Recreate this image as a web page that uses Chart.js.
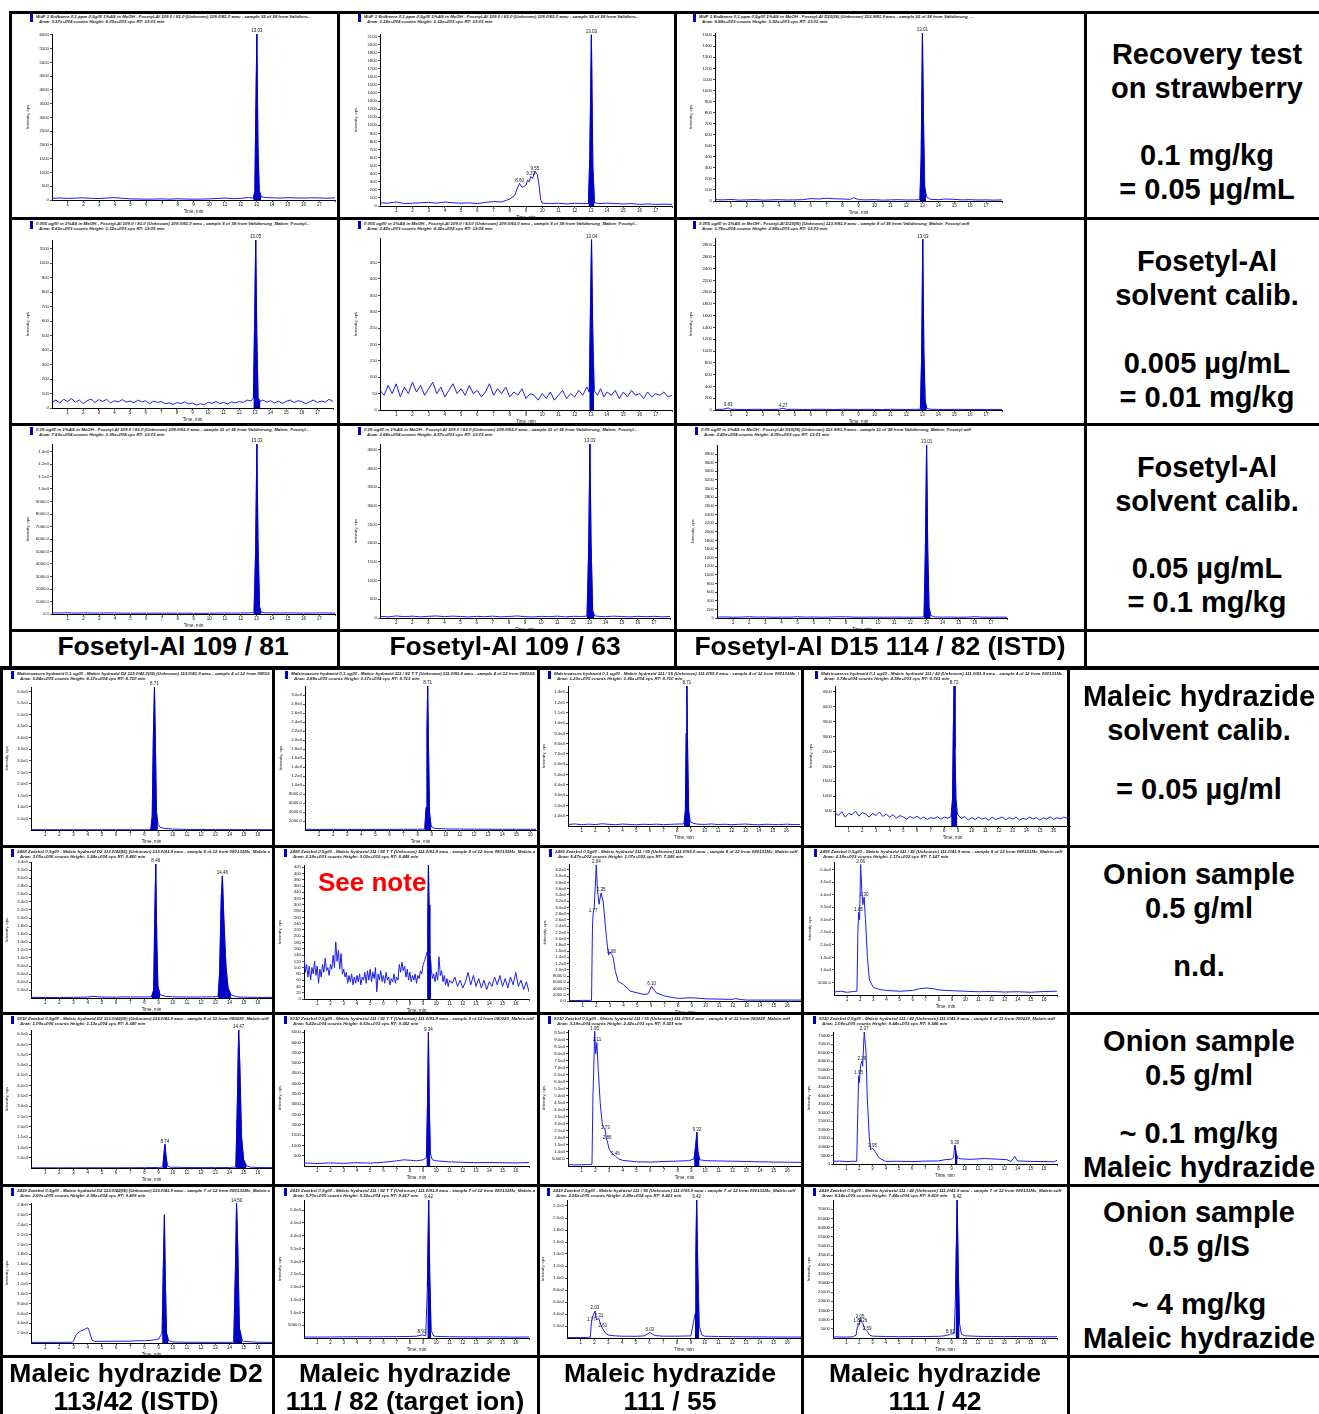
<!DOCTYPE html>
<html><head><meta charset="utf-8">
<script src="https://cdn.jsdelivr.net/npm/chart.js@4.4.1/dist/chart.umd.min.js"></script>
<style>
body{margin:0;background:#fff;width:1319px;height:1414px;overflow:hidden;position:relative;font-family:"Liberation Sans",Arial,sans-serif}
.ln{position:absolute;background:#000}
.hd{position:absolute;font:italic bold 4.4px "Liberation Sans";color:#222;white-space:nowrap;line-height:5px;overflow:hidden}
.mk{position:absolute;background:#0000c0;width:3px;height:8px}
.tx{position:absolute;font:bold 26.5px "Liberation Sans";color:#000;text-align:center;line-height:34px;white-space:nowrap}
.tr{font-size:29px}
.note{position:absolute;font:bold 26px "Liberation Sans";color:#ff0000;white-space:nowrap}
</style></head><body>
<script>
// ---------------- DATA (time [min], intensity [cps]) ----------------
const fos81_recov=[[0,60],[0.5,75],[1,55],[1.5,70],[2,80],[2.5,60],[3,55],[3.5,70],[4,85],[4.5,60],[5,40],[5.5,35],[6,30],[6.5,35],[7,40],[7.5,30],[8,45],[8.5,35],[9,30],[9.5,35],[10,40],[10.5,55],[11,70],[11.5,50],[12,60],[12.5,90],[12.8,70],[12.9,300],[12.97,3500],[13.03,6030],[13.1,2000],[13.18,350],[13.3,120],[13.5,95],[14,80],[14.5,70],[15,85],[15.5,75],[16,70],[16.5,80],[17,75],[17.5,65],[18,80]];
const fos63_recov=[[0,40],[0.5,35],[1,50],[1.5,30],[2,35],[2.5,40],[3,45],[3.5,35],[4,50],[4.5,40],[5,35],[5.5,40],[6,30],[6.5,45],[7,55],[7.5,50],[8,86],[8.3,130],[8.5,237],[8.6,280],[8.75,230],[8.9,245],[9.0,260],[9.1,320],[9.2,300],[9.29,365],[9.4,340],[9.5,400],[9.55,430],[9.7,390],[9.8,260],[9.9,86],[10,35],[10.5,30],[11,35],[11.5,25],[12,35],[12.5,30],[12.85,30],[12.93,600],[13.03,2120],[13.12,500],[13.22,40],[13.5,30],[14,35],[14.5,30],[15,25],[15.5,30],[16,20],[16.5,25],[17,20],[17.5,22],[18,20]];
const d15_recov=[[0,12],[0.5,10],[1,14],[1.5,8],[2,10],[2.5,12],[3,8],[3.5,10],[4,12],[4.5,9],[5,10],[5.5,12],[6,22],[6.5,18],[7,25],[7.5,20],[8,18],[8.5,15],[8.7,30],[9,12],[9.5,10],[10,12],[10.5,8],[11,10],[11.5,12],[12,9],[12.5,10],[12.85,12],[12.93,400],[13.01,1520],[13.08,700],[13.15,130],[13.25,40],[13.5,15],[14,12],[14.5,18],[15,15],[15.5,10],[16,12],[16.5,9],[17,10],[17.5,8],[18,10]];
const fos81_c005=[[0,40],[0.25,55],[0.5,35],[0.75,60],[1,45],[1.25,65],[1.5,40],[1.75,55],[2,30],[2.25,50],[2.5,62],[2.75,38],[3,58],[3.25,45],[3.5,60],[3.75,35],[4,50],[4.25,42],[4.5,58],[4.75,40],[5,48],[5.25,35],[5.5,55],[5.75,42],[6,50],[6.25,30],[6.5,48],[6.75,38],[7,45],[7.25,30],[7.5,35],[7.75,25],[8,38],[8.25,30],[8.5,42],[8.75,28],[9,35],[9.25,20],[9.5,30],[9.75,22],[10,40],[10.25,32],[10.5,45],[10.75,30],[11,38],[11.25,28],[11.5,42],[11.75,35],[12,45],[12.25,38],[12.5,55],[12.75,48],[12.9,70],[12.98,600],[13.05,1160],[13.12,500],[13.2,70],[13.35,45],[13.5,55],[13.75,40],[14,50],[14.25,35],[14.5,48],[14.75,32],[15,45],[15.25,55],[15.5,38],[15.75,50],[16,45],[16.25,30],[16.5,42],[16.75,55],[17,38],[17.25,48],[17.5,40],[17.75,60],[18,45]];
const fos63_c005=[[0,60],[0.25,45],[0.5,75],[0.75,50],[1,80],[1.25,40],[1.5,70],[1.75,50],[2,85],[2.25,55],[2.5,75],[2.75,45],[3,65],[3.25,85],[3.5,50],[3.75,70],[4,40],[4.25,60],[4.5,80],[4.75,50],[5,65],[5.25,45],[5.5,75],[5.75,50],[6,60],[6.25,40],[6.5,55],[6.75,80],[7,45],[7.25,65],[7.5,50],[7.75,70],[8,40],[8.25,55],[8.5,45],[8.75,65],[9,35],[9.25,50],[9.5,45],[9.75,30],[10,50],[10.25,35],[10.5,55],[10.75,30],[11,45],[11.25,60],[11.5,35],[11.75,50],[12,40],[12.25,60],[12.5,45],[12.75,70],[12.9,55],[12.97,300],[13.04,520],[13.11,250],[13.2,60],[13.4,45],[13.6,65],[13.8,40],[14,55],[14.25,45],[14.5,60],[14.75,35],[15,55],[15.25,40],[15.5,60],[15.75,45],[16,50],[16.25,35],[16.5,55],[16.75,40],[17,50],[17.25,45],[17.5,55],[17.75,40],[18,45]];
const d15_c005=[[0,10],[0.5,12],[0.83,35],[1,12],[1.5,10],[2,8],[2.5,12],[3,10],[3.5,9],[4,12],[4.27,30],[4.5,10],[5,12],[5.5,9],[6,10],[6.5,12],[7,10],[7.5,8],[8,12],[8.5,10],[9,9],[9.5,11],[10,10],[10.5,8],[11,12],[11.5,10],[12,9],[12.5,11],[12.88,12],[12.96,900],[13.03,2900],[13.1,1000],[13.18,150],[13.28,30],[13.5,12],[14,10],[14.5,9],[15,11],[15.5,10],[16,8],[16.5,10],[17,9],[17.5,10],[18,9]];
const fos81_c05=[[0,90],[0.5,80],[1,100],[1.5,70],[2,90],[2.5,80],[3,70],[3.5,90],[4,80],[4.5,70],[5,60],[5.5,70],[6,60],[6.5,70],[7,60],[7.5,70],[8,60],[8.5,70],[9,60],[9.5,50],[10,60],[10.5,70],[11,80],[11.5,70],[12,80],[12.5,90],[12.85,100],[12.95,5000],[13.03,13600],[13.1,6000],[13.2,600],[13.3,150],[13.5,100],[14,90],[14.5,80],[15,90],[15.5,80],[16,70],[16.5,80],[17,90],[17.5,80],[18,70]];
const fos63_c05=[[0,45],[0.5,30],[1,55],[1.5,35],[2,50],[2.5,30],[3,45],[3.5,55],[4,35],[4.5,50],[5,40],[5.5,30],[6,45],[6.5,35],[7,50],[7.5,30],[8,40],[8.5,55],[9,35],[9.5,30],[10,45],[10.5,35],[11,50],[11.5,30],[12,45],[12.5,40],[12.85,50],[12.95,1800],[13.03,4650],[13.1,2000],[13.2,200],[13.3,60],[13.5,45],[14,35],[14.5,50],[15,40],[15.5,30],[16,45],[16.5,35],[17,45],[17.5,30],[18,40]];
const d15_c05=[[0,20],[0.5,25],[1,18],[1.5,22],[2,30],[2.5,20],[3,25],[3.5,18],[4,22],[4.5,20],[5,30],[5.5,20],[6,25],[6.5,18],[7,22],[7.5,30],[8,28],[8.5,20],[9,18],[9.5,22],[10,20],[10.5,18],[11,22],[11.5,20],[12,18],[12.5,20],[12.85,25],[12.93,1500],[13.01,4010],[13.08,1600],[13.16,250],[13.26,60],[13.5,25],[14,20],[14.5,22],[15,18],[15.5,20],[16,30],[16.5,20],[17,18],[17.5,20],[18,18]];

const mhD2_cal=[[0,1500],[1,1200],[2,1300],[3,1100],[4,1200],[5,1000],[6,1100],[7,1000],[8,1200],[8.45,1500],[8.55,60000],[8.63,400000],[8.71,620000],[8.78,350000],[8.85,80000],[8.95,25000],[9.1,12000],[9.4,7000],[10,4000],[11,2500],[12,2000],[13,1800],[14,1600],[15,1500],[16,1400],[17,1400]];
const mh82_cal=[[0,150],[1,120],[2,140],[3,130],[4,120],[5,140],[6,130],[7,150],[8,160],[8.5,200],[8.6,5000],[8.66,22000],[8.71,32000],[8.77,18000],[8.84,4000],[8.95,800],[9.2,350],[10,250],[11,200],[12,180],[13,170],[14,160],[15,150],[16,150],[16.4,150]];
const mh55_cal=[[0,1500],[0.5,2000],[1,1200],[1.5,1800],[2,1400],[2.5,2200],[3,1600],[3.5,1300],[4,1900],[4.5,1500],[5,1200],[5.5,1700],[6,1400],[6.5,1800],[7,1300],[7.5,1600],[8,1900],[8.5,2000],[8.6,15000],[8.66,90000],[8.71,136000],[8.77,70000],[8.84,15000],[8.95,4000],[9.2,2500],[9.5,1800],[10,1500],[10.5,2000],[11,1400],[11.5,1700],[12,1300],[12.5,1600],[13,1900],[13.5,1400],[14,1200],[14.5,1700],[15,1500],[15.5,1300],[16,1800],[16.5,1400],[17,1500]];
const mh42_cal=[[0,450],[0.25,350],[0.5,480],[0.75,300],[1,420],[1.25,380],[1.5,500],[1.75,330],[2,450],[2.25,400],[2.5,300],[2.75,420],[3,350],[3.25,470],[3.5,320],[3.75,400],[4,300],[4.25,380],[4.5,260],[4.75,350],[5,300],[5.25,230],[5.5,320],[5.75,260],[6,330],[6.25,240],[6.5,300],[6.75,220],[7,280],[7.25,250],[7.5,310],[7.75,230],[8,300],[8.25,260],[8.5,320],[8.6,900],[8.66,3200],[8.72,4700],[8.78,2600],[8.85,900],[8.95,400],[9.25,250],[9.5,320],[9.75,200],[10,280],[10.25,220],[10.5,300],[10.75,230],[11,270],[11.25,200],[11.5,290],[11.75,220],[12,260],[12.25,300],[12.5,210],[12.75,280],[13,230],[13.25,300],[13.5,200],[13.75,260],[14,220],[14.25,300],[14.5,230],[14.75,280],[15,200],[15.25,270],[15.5,230],[15.75,310],[16,220],[16.25,280],[16.5,240],[16.75,300],[17,250],[17.2,330]];

const mhD2_on1=[[0,1500],[1,1200],[2,1300],[3,1500],[4,2500],[4.3,4000],[5,2500],[6,2000],[6.5,3000],[7,2500],[7.5,2800],[8,2500],[8.5,3000],[8.65,20000],[8.73,200000],[8.8,335000],[8.87,150000],[8.95,30000],[9.1,8000],[9.5,4000],[10,3000],[11,2500],[12,2500],[12.8,3000],[13.2,3500],[13.3,60000],[13.42,250000],[13.5,305000],[13.6,200000],[13.75,80000],[13.9,25000],[14.1,8000],[14.5,3000],[15,2000],[16,1500],[17,1500]];
const mh82_on1=[[0,140],[0.1,85],[0.2,110],[0.3,70],[0.4,105],[0.5,60],[0.6,100],[0.7,80],[0.8,120],[0.9,75],[1.0,105],[1.1,50],[1.2,95],[1.3,70],[1.4,110],[1.5,85],[1.6,130],[1.7,90],[1.8,100],[1.9,75],[2.0,110],[2.1,95],[2.2,140],[2.3,100],[2.4,182],[2.5,120],[2.6,155],[2.7,95],[2.8,145],[2.9,80],[3.0,95],[3.1,70],[3.2,85],[3.3,50],[3.4,75],[3.5,55],[3.6,80],[3.7,45],[3.8,70],[3.9,50],[4.0,75],[4.1,55],[4.2,80],[4.3,45],[4.4,70],[4.5,60],[4.6,85],[4.7,50],[4.8,90],[4.9,60],[5.0,95],[5.1,55],[5.2,85],[5.3,65],[5.4,100],[5.5,23],[5.6,80],[5.7,60],[5.8,90],[5.9,55],[6.0,75],[6.1,50],[6.2,85],[6.3,60],[6.4,70],[6.5,45],[6.6,65],[6.7,55],[6.8,80],[6.9,50],[7.0,70],[7.1,60],[7.2,110],[7.3,85],[7.4,118],[7.5,90],[7.6,105],[7.7,70],[7.8,95],[7.9,60],[8.0,85],[8.1,55],[8.2,75],[8.3,60],[8.4,80],[8.5,50],[8.6,75],[8.7,65],[8.8,90],[8.9,80],[9.0,110],[9.1,120],[9.2,135],[9.3,150],[9.35,250],[9.4,427],[9.45,300],[9.5,145],[9.55,130],[9.6,100],[9.7,65],[9.8,80],[9.9,55],[10.0,85],[10.1,60],[10.2,135],[10.3,75],[10.4,90],[10.5,55],[10.6,75],[10.7,45],[10.8,65],[10.9,40],[11.0,60],[11.2,50],[11.4,70],[11.6,40],[11.8,60],[12.0,35],[12.2,55],[12.4,85],[12.6,45],[12.8,75],[13.0,40],[13.2,65],[13.4,35],[13.6,60],[13.8,30],[14.0,55],[14.2,40],[14.4,70],[14.6,45],[14.8,75],[15.0,40],[15.2,65],[15.4,35],[15.6,70],[15.8,45],[16.0,85],[16.2,40],[16.4,60],[16.6,30],[16.8,55],[17.0,23]];
const mh55_on1=[[0,200],[0.5,150],[1,200],[1.5,180],[1.65,250],[1.72,24000],[1.77,28100],[1.85,30000],[2.0,43600],[2.08,36000],[2.2,31000],[2.35,34650],[2.5,32000],[2.75,20000],[2.9,14700],[3.0,15750],[3.1,15000],[3.2,14700],[3.4,9450],[3.6,6300],[4.0,5250],[4.5,3150],[5.0,2600],[5.5,2100],[5.8,2300],[6.05,4700],[6.4,2600],[7,1600],[8,840],[9,1050],[10,700],[11,600],[12,525],[12.2,800],[12.5,500],[13,300],[14,300],[15,300],[16,300],[17,300]];
const mh42_on1=[[0,1200],[0.5,1500],[1,1100],[1.5,1400],[1.75,1500],[1.82,25000],[1.88,33000],[1.95,30000],[2.03,52000],[2.12,42000],[2.2,36000],[2.3,39000],[2.4,30000],[2.55,15000],[2.7,6000],[3.0,3000],[3.5,2200],[4,1800],[5,1500],[6,1800],[6.5,2500],[7,2800],[7.5,2600],[8,2000],[9,1700],[10,1500],[11,1300],[12,1400],[13,1200],[14,1300],[15,1100],[16,1400],[17,1500]];

const mhD2_on2=[[0,1000],[1,1200],[2,1000],[3,1100],[4,1500],[5,1200],[6,1300],[7,1500],[8,1800],[9,2500],[9.3,5000],[9.38,70000],[9.45,115000],[9.52,60000],[9.62,10000],[9.8,4000],[10.5,3000],[11,2500],[12,2000],[13,2000],[14,2500],[14.45,5000],[14.55,300000],[14.65,670000],[14.73,500000],[14.85,150000],[15.0,40000],[15.2,10000],[15.5,4000],[16,2500],[17,2000]];
const mh82_on2=[[0,150],[1,120],[2,150],[3,130],[4,160],[5,140],[6,180],[7,250],[7.5,300],[8,280],[8.5,250],[9,300],[9.25,400],[9.33,3000],[9.4,6500],[9.47,2800],[9.55,600],[9.7,300],[10,250],[11,200],[12,180],[13,160],[14,170],[15,160],[16,150],[17,170]];
const mh55_on2=[[0,1000],[0.5,800],[1,900],[1.5,1000],[1.75,1200],[1.82,50000],[1.88,70000],[1.95,96000],[2.02,80000],[2.11,88000],[2.2,70000],[2.35,45000],[2.5,30000],[2.73,25000],[2.8,19000],[2.86,18000],[3.0,12000],[3.2,9000],[3.46,7000],[3.7,5000],[4,4000],[5,3000],[6,2800],[7,3200],[8,3500],[8.8,3800],[9.2,5000],[9.32,15000],[9.4,24000],[9.48,10000],[9.6,4500],[10,3800],[11,3600],[12,3400],[13,3200],[14,3000],[15,2800],[16,2700],[17,2600]];
const mh42_on2=[[0,1500],[0.5,1700],[1,1400],[1.5,1600],[1.8,1500],[1.88,30000],[1.95,51500],[2.0,47600],[2.1,58000],[2.2,60000],[2.25,57000],[2.37,77000],[2.5,66000],[2.6,39000],[2.75,16000],[2.85,8300],[3.0,9200],[3.2,7300],[3.5,3500],[4,1500],[5,1600],[6,1400],[7,1700],[8,1800],[8.5,2500],[9.0,2800],[9.15,4000],[9.25,11000],[9.35,6000],[9.45,3500],[9.7,3000],[10.5,2700],[11.5,3200],[12.5,2800],[13.2,2500],[13.5,1500],[13.8,4400],[14,1800],[15,1500],[16,1400],[16.8,1300],[17,2200]];

const mhD2_on3=[[0,1300],[1,1200],[2,1300],[2.9,1500],[3.0,4000],[3.2,18000],[3.5,24500],[3.8,27800],[4.0,31000],[4.1,25000],[4.3,6000],[4.5,3300],[5,3300],[6,3500],[7,3800],[7.5,4600],[8,4500],[8.5,5500],[9.0,8000],[9.25,20000],[9.33,150000],[9.41,260000],[9.48,120000],[9.56,20000],[9.7,5000],[10,2000],[11,1500],[12,1400],[13,1300],[14,1300],[14.3,1800],[14.42,150000],[14.5,283000],[14.58,200000],[14.7,30000],[14.9,4600],[15,3300],[16,1500],[17,1300]];
const mh82_on3=[[0,400],[1,350],[2,400],[3,450],[4,500],[5,450],[6,500],[7,550],[8,600],[8.5,700],[8.91,1200],[9.2,900],[9.32,20000],[9.42,54000],[9.5,25000],[9.6,3000],[9.8,800],[10,600],[11,500],[12,450],[13,400],[14,450],[15,400],[16,350],[17,400]];
const mh55_on3=[[0,800],[1,700],[1.5,900],[1.7,1500],[1.77,25000],[1.85,35000],[2.03,45000],[2.15,30000],[2.31,33000],[2.45,22000],[2.61,15000],[2.8,8000],[3,5000],[3.5,3500],[4,3000],[5,2800],[5.6,3500],[6.02,9000],[6.4,4000],[7,3000],[8,3000],[9,3500],[9.3,40000],[9.36,140000],[9.42,230000],[9.5,120000],[9.6,20000],[9.8,5000],[10,3000],[11,2500],[12,2200],[13,2000],[14,1800],[15,1700],[16,1600],[17,1600]];
const mh42_on3=[[0,600],[1,500],[1.5,700],[1.75,1500],[1.85,6000],[1.89,8000],[2.0,7000],[2.05,10000],[2.15,9000],[2.26,8000],[2.4,5000],[2.59,3500],[2.8,1500],[3,1000],[4,800],[5,700],[6,750],[7,800],[8,900],[8.5,1200],[8.91,2000],[9.2,2500],[9.3,25000],[9.36,50000],[9.42,75000],[9.5,40000],[9.6,8000],[9.75,2000],[10,1200],[11,900],[12,800],[13,750],[14,800],[15,700],[16,650],[17,700]];

// peak labels [time, text]
const ann_fos81_recov=[[13.03,'13.03']], ann_fos63_recov=[[8.6,'8.60'],[9.29,'9.29'],[9.55,'9.55'],[13.03,'13.03']], ann_d15_recov=[[13.01,'13.01']];
const ann_fos81_c005=[[13.05,'13.05']], ann_fos63_c005=[[13.04,'13.04']], ann_d15_c005=[[0.83,'0.83'],[4.27,'4.27'],[13.03,'13.03']];
const ann_fos81_c05=[[13.03,'13.03']], ann_fos63_c05=[[13.03,'13.03']], ann_d15_c05=[[13.01,'13.01']];
const ann_mhD2_cal=[[8.71,'8.71']], ann_mh82_cal=[[8.71,'8.71']], ann_mh55_cal=[[8.71,'8.71']], ann_mh42_cal=[[8.72,'8.72']];
const ann_mhD2_on1=[[8.8,'8.46'],[13.5,'14.46']], ann_mh82_on1=[], ann_mh55_on1=[[1.77,'1.77'],[2.0,'2.04'],[2.35,'2.35'],[3.1,'3.08'],[6.05,'6.10']], ann_mh42_on1=[[1.88,'1.85'],[2.03,'2.06'],[2.3,'2.30']];
const ann_mhD2_on2=[[9.45,'8.74'],[14.65,'14.47']], ann_mh82_on2=[[9.4,'9.34']], ann_mh55_on2=[[1.95,'1.95'],[2.11,'2.11'],[2.73,'2.73'],[2.86,'2.86'],[3.46,'3.46'],[9.4,'9.32']], ann_mh42_on2=[[1.95,'1.95'],[2.2,'2.26'],[2.37,'2.37'],[3.0,'2.95'],[9.25,'9.30']];
const ann_mhD2_on3=[[14.5,'14.50']], ann_mh82_on3=[[9.42,'9.42'],[8.91,'8.91']], ann_mh55_on3=[[1.77,'1.77'],[2.03,'2.03'],[2.31,'2.31'],[2.61,'2.61'],[6.02,'6.02'],[9.42,'9.42']], ann_mh42_on3=[[1.89,'1.89'],[2.05,'2.05'],[2.26,'2.26'],[2.59,'2.59'],[8.91,'8.91'],[9.42,'9.42']];

// integrated peak windows [from, to] (min)
const pk_top=[[12.8,13.35]];
const pk_cal=[[8.45,9.0]];
const pk_on1_d2=[[8.5,9.1],[13.2,14.1]], pk_on1_82=[[9.25,9.6]];
const pk_on2_d2=[[9.3,9.7],[14.45,15.2]], pk_on2=[[9.2,9.6]];
const pk_on3_d2=[[9.25,9.7],[14.3,14.9]], pk_on3=[[9.25,9.7]];

// y tick specs [from, to, step]
const yt_fos81_recov=[0,6000,500], yt_fos63_recov=[0,2100,100], yt_d15_recov=[0,1500,100];
const yt_fos81_c005=[0,1100,100], yt_fos63_c005=[0,450,50], yt_d15_c005=[0,2800,200];
const yt_fos81_c05=[0,13000,1000], yt_fos63_c05=[0,4500,500], yt_d15_c05=[0,3800,200];
const yt_mhD2_cal=[50000,600000,50000], yt_mh82_cal=[2000,30000,2000], yt_mh55_cal=[10000,130000,10000], yt_mh42_cal=[500,4500,500];
const yt_mhD2_on1=[20000,340000,20000], yt_mh82_on1=[0,420,20], yt_mh55_on1=[0,42000,2000], yt_mh42_on1=[5000,50000,5000];
const yt_mhD2_on2=[50000,650000,50000], yt_mh82_on2=[500,6500,500], yt_mh55_on2=[5000,95000,5000], yt_mh42_on2=[0,75000,5000];
const yt_mhD2_on3=[20000,280000,20000], yt_mh82_on3=[5000,50000,5000], yt_mh55_on3=[20000,220000,20000], yt_mh42_on3=[5000,70000,5000];

// header texts
const H_recov='WdF  1  Erdbeere 0,1 ppm 0,5g/l0 1%AS in MeOH - ';
const H_c005='0.005 ug/l0 in 1%AS in MeOH - ', H_c05='0.05 ug/l0 in 1%AS in MeOH - ';
const H_cal='Maleinsaeure hydrazid 0,1 ug/l0 - ', H_on1='2493 Zwiebel 0,5g/l0 - ', H_on2='5010 Zwiebel 0,5g/l0 - ', H_on3='2419 Zwiebel 0,5g/l0 - ';

// ---------------- LAYOUT ----------------
Chart.defaults.font.family='"Liberation Sans", Arial, sans-serif';
const fmtInt=v=>String(v);
const fmtDec=v=>{if(v===0)return '0.0'; if(v<1e4)return v.toFixed(1); const e=Math.floor(Math.log10(v)+1e-9); return (v/Math.pow(10,e)).toFixed(1)+'e'+e;};

const annPlugin={id:'ann',afterDatasetsDraw(c){
  const items=c.config.options.annItems||[], src=c.config.options.annSrc||[];
  const ctx=c.ctx,xs=c.scales.x,ys=c.scales.y;
  ctx.save();ctx.font='4.5px "Liberation Sans"';ctx.fillStyle='#111';ctx.textAlign='center';ctx.textBaseline='bottom';
  items.forEach(([t,txt])=>{let best=src[0];src.forEach(d=>{if(Math.abs(d[0]-t)<Math.abs(best[0]-t))best=d;});
    ctx.fillText(txt,xs.getPixelForValue(t),Math.max(ys.getPixelForValue(best[1])-0.5,c.chartArea.top-1));});
  ctx.restore();}};

function el(cls,css,txt){const d=document.createElement('div');d.className=cls;d.style.cssText=css;if(txt!==undefined)d.textContent=txt;document.body.appendChild(d);return d;}
function hl(x1,x2,y,t){el('ln',`left:${x1}px;top:${y-Math.floor(t/2)}px;width:${x2-x1}px;height:${t}px`);}
function vl(x,y1,y2,t){el('ln',`left:${x-Math.floor(t/2)}px;top:${y1}px;width:${t}px;height:${y2-y1}px`);}

// table lines first (charts and texts drawn over them)
[12,218,424,630].forEach(y=>hl(9,1319,y,3));
hl(0,1319,668,4);
[10,338,675,1085].forEach(x=>vl(x,11,668,3));
[846,1013,1185,1356].forEach(y=>hl(0,1319,y,3));
[1,273,538,802,1068].forEach(x=>vl(x,668,1414,3));

function build(p){
  const padL=27,padT=6,padR=3,padB=14;
  const w=p.R-p.L+padL+padR,h=p.B-p.T+padT+padB;
  const cv=document.createElement('canvas');cv.width=w;cv.height=h;
  cv.style.cssText=`position:absolute;left:${p.L-padL}px;top:${p.T-padT}px;width:${w}px;height:${h}px`;
  document.body.appendChild(cv);
  const pts=p.data.map(([x,y])=>({x,y}));
  const ds=[{data:pts,borderColor:'#1c1cf0',borderWidth:1,pointRadius:0,tension:0,fill:false,order:1}];
  (p.peaks||[]).forEach(([a,b])=>ds.push({data:pts.filter(q=>q.x>=a&&q.x<=b),borderColor:'#0000c4',backgroundColor:'#0000c4',borderWidth:0.8,pointRadius:0,tension:0,fill:'origin',order:0}));
  const yt=[];for(let v=p.yt[0];v<=p.yt[1]+1e-6;v+=p.yt[2])yt.push(Math.round(v*1000)/1000);
  const fmt=p.fmt==='dec'?fmtDec:fmtInt;
  const xlab=p.top?17:16;
  const xt=[];for(let i=1;i<=Math.floor(p.xmax);i++)xt.push(i);
  new Chart(cv,{type:'line',data:{datasets:ds},plugins:[annPlugin],options:{
    responsive:false,animation:false,events:[],annItems:p.ann,annSrc:p.data,
    layout:{padding:{left:0,top:padT,right:padR,bottom:0}},
    plugins:{legend:{display:false},tooltip:{enabled:false},title:{display:false}},
    scales:{
      x:{type:'linear',min:0,max:p.xmax,
        afterBuildTicks:s=>{s.ticks=xt.map(v=>({value:v}));},
        afterFit:s=>{s.height=padB;},
        ticks:{autoSkip:false,maxRotation:0,minRotation:0,padding:0,font:{size:4.5},color:'#111',callback:v=>(v>=1&&v<=xlab)?String(v):''},
        grid:{drawOnChartArea:false,drawTicks:true,tickLength:2,color:'#000',lineWidth:0.7},
        border:{display:true,color:'#000',width:1},
        title:{display:true,text:'Time, min',font:{size:4.5},color:'#111',padding:{top:0,bottom:0}}},
      y:{type:'linear',min:0,max:p.ymax,
        afterBuildTicks:s=>{s.ticks=yt.map(v=>({value:v}));},
        afterFit:s=>{s.width=padL;},
        ticks:{autoSkip:false,padding:1,font:{size:4.3},color:'#111',callback:v=>fmt(v)},
        grid:{drawOnChartArea:false,drawTicks:true,tickLength:2,color:'#000',lineWidth:0.7},
        border:{display:true,color:'#000',width:1},
        title:{display:true,text:'Intensity, cps',font:{size:4.2},color:'#111',padding:{top:0,bottom:0}}}
    }}});
  // header (placed just under the row's top border, clipped at the cell edge)
  const mx=p.L-(p.top?22:20), my=p.hy;
  el('mk',`left:${mx}px;top:${my}px`);
  el('hd',`left:${mx+6}px;top:${my}px;width:${p.cr-mx-9}px`,p.head[0]);
  el('hd',`left:${mx+9}px;top:${my+5}px;width:${p.cr-mx-12}px`,p.head[1]);
}

const panels=[
 {top:1,hy:14,cr:338,L:52,T:34,R:335,B:200,xmax:18,ymax:6030,yt:yt_fos81_recov,fmt:'int',data:fos81_recov,ann:ann_fos81_recov,peaks:pk_top,head:[H_recov+'Fosetyl-Al 109.0 / 81.0 (Unknown) 109.0/81.0 amu - sample 32 of 38 from Validieru...','Area: 3.37e+004 counts  Height: 6.03e+003 cps  RT: 13.03 min']},
 {top:1,hy:14,cr:675,L:380,T:34,R:672,B:206,xmax:18,ymax:2130,yt:yt_fos63_recov,fmt:'int',data:fos63_recov,ann:ann_fos63_recov,peaks:pk_top,head:[H_recov+'Fosetyl-Al 109.0 / 63.0 (Unknown) 109.0/63.0 amu - sample 32 of 38 from Validieru...','Area: 1.18e+004 counts  Height: 2.12e+003 cps  RT: 13.03 min']},
 {top:1,hy:14,cr:1085,L:715,T:33,R:1002,B:201,xmax:18,ymax:1520,yt:yt_d15_recov,fmt:'int',data:d15_recov,ann:ann_d15_recov,peaks:pk_top,head:[H_recov+'Fosetyl-Al D15(IS) (Unknown) 113.9/81.9 amu - sample 32 of 38 from Validierung_...','Area: 8.88e+003 counts  Height: 1.52e+003 cps  RT: 13.01 min']},
 {top:1,hy:221,cr:338,L:52,T:240,R:333,B:408,xmax:18,ymax:1160,yt:yt_fos81_c005,fmt:'int',data:fos81_c005,ann:ann_fos81_c005,peaks:pk_top,head:[H_c005+'Fosetyl-Al 109.0 / 81.0 (Unknown) 109.0/81.0 amu - sample 8 of 38 from Validierung_Malein_Fosetyl...','Area: 6.63e+003 counts  Height: 1.12e+003 cps  RT: 13.05 min']},
 {top:1,hy:221,cr:675,L:380,T:238,R:672,B:410,xmax:18,ymax:525,yt:yt_fos63_c005,fmt:'int',data:fos63_c005,ann:ann_fos63_c005,peaks:pk_top,head:[H_c005+'Fosetyl-Al 109.0 / 63.0 (Unknown) 109.0/63.0 amu - sample 8 of 38 from Validierung_Malein_Fosetyl...','Area: 2.40e+003 counts  Height: 4.32e+002 cps  RT: 13.04 min']},
 {top:1,hy:221,cr:1085,L:715,T:238,R:1002,B:410,xmax:18,ymax:2920,yt:yt_d15_c005,fmt:'int',data:d15_c005,ann:ann_d15_c005,peaks:pk_top,head:[H_c005+'Fosetyl-Al D15(IS) (Unknown) 113.9/81.9 amu - sample 8 of 38 from Validierung_Malein_Fosetyl.wiff','Area: 1.76e+004 counts  Height: 2.88e+003 cps  RT: 13.03 min']},
 {top:1,hy:427,cr:338,L:52,T:444,R:335,B:614,xmax:18,ymax:13600,yt:yt_fos81_c05,fmt:'dec',data:fos81_c05,ann:ann_fos81_c05,peaks:pk_top,head:[H_c05+'Fosetyl-Al 109.0 / 81.0 (Unknown) 109.0/81.0 amu - sample 11 of 38 from Validierung_Malein_Fosetyl...','Area: 7.63e+004 counts  Height: 1.35e+004 cps  RT: 13.03 min']},
 {top:1,hy:427,cr:675,L:380,T:444,R:670,B:618,xmax:18,ymax:4650,yt:yt_fos63_c05,fmt:'int',data:fos63_c05,ann:ann_fos63_c05,peaks:pk_top,head:[H_c05+'Fosetyl-Al 109.0 / 63.0 (Unknown) 109.0/63.0 amu - sample 11 of 38 from Validierung_Malein_Fosetyl...','Area: 2.68e+004 counts  Height: 4.57e+003 cps  RT: 13.03 min']},
 {top:1,hy:427,cr:1085,L:717,T:445,R:1007,B:618,xmax:18,ymax:4010,yt:yt_d15_c05,fmt:'int',data:d15_c05,ann:ann_d15_c05,peaks:pk_top,head:[H_c05+'Fosetyl-Al D15(IS) (Unknown) 113.9/81.9 amu - sample 11 of 38 from Validierung_Malein_Fosetyl.wiff','Area: 2.40e+004 counts  Height: 4.00e+003 cps  RT: 13.01 min']},

 {hy:671,cr:273,L:31,T:687,R:272,B:830,xmax:17,ymax:620000,yt:yt_mhD2_cal,fmt:'dec',data:mhD2_cal,ann:ann_mhD2_cal,peaks:pk_cal,head:[H_cal+'Maleic hydrazid D2   113.0/42.0(IS) (Unknown) 113.0/41.9 amu - sample 4 of 12 from 080131Mc_Malein...','Area: 5.84e+005 counts  Height: 6.17e+004 cps  RT: 8.710 min']},
 {hy:671,cr:538,L:305,T:686,R:536,B:830,xmax:16.4,ymax:32000,yt:yt_mh82_cal,fmt:'dec',data:mh82_cal,ann:ann_mh82_cal,peaks:pk_cal,head:[H_cal+'Maleic hydrazid 111 / 82   T   T (Unknown) 111.0/81.8 amu - sample 4 of 12 from 080131Mc_Malein...','Area: 2.88e+005 counts  Height: 3.17e+004 cps  RT: 8.713 min']},
 {hy:671,cr:802,L:568,T:686,R:800,B:826,xmax:17,ymax:136000,yt:yt_mh55_cal,fmt:'dec',data:mh55_cal,ann:ann_mh55_cal,peaks:pk_cal,head:[H_cal+'Maleic hydrazid 111 / 55 (Unknown) 111.0/55.0 amu - sample 4 of 12 from 080131Mc_Malein...','Area: 1.23e+005 counts  Height: 1.36e+004 cps  RT: 8.710 min']},
 {hy:671,cr:1068,L:835,T:686,R:1070,B:826,xmax:17.2,ymax:4700,yt:yt_mh42_cal,fmt:'int',data:mh42_cal,ann:ann_mh42_cal,peaks:pk_cal,head:[H_cal+'Maleic hydrazid 111 / 42 (Unknown) 111.0/41.9 amu - sample 4 of 12 from 080131Mc_Malein...','Area: 3.74e+004 counts  Height: 4.58e+003 cps  RT: 8.721 min']},

 {hy:849,cr:273,L:31,T:862,R:272,B:998,xmax:17,ymax:340000,yt:yt_mhD2_on1,fmt:'dec',data:mhD2_on1,ann:ann_mhD2_on1,peaks:pk_on1_d2,head:[H_on1+'Maleic hydrazid D2   113.0/42(IS) (Unknown) 113.0/41.9 amu - sample 8 of 12 from 080131Mc_Malein.wiff','Area: 3.05e+006 counts  Height: 3.24e+004 cps  RT: 8.460 min']},
 {hy:849,cr:538,L:304,T:865,R:529,B:999,xmax:17,ymax:427,yt:yt_mh82_on1,fmt:'int',data:mh82_on1,ann:ann_mh82_on1,peaks:pk_on1_82,head:[H_on1+'Maleic hydrazid 111 / 82   T   T (Unknown) 111.0/81.8 amu - sample 8 of 12 from 080131Mc_Malein.wiff','Area: 2.18e+003 counts  Height: 3.02e+002 cps  RT: 8.448 min']},
 {hy:849,cr:802,L:569,T:864,R:801,B:1001,xmax:17,ymax:43900,yt:yt_mh55_on1,fmt:'dec',data:mh55_on1,ann:ann_mh55_on1,peaks:[],head:[H_on1+'Maleic hydrazid 111 / 55 (Unknown) 111.0/55.0 amu - sample 8 of 12 from 080131Mc_Malein.wiff','Area: 6.47e+002 counts  Height: 1.07e+002 cps  RT: 7.245 min']},
 {hy:849,cr:1068,L:834,T:862,R:1057,B:995,xmax:17,ymax:53000,yt:yt_mh42_on1,fmt:'dec',data:mh42_on1,ann:ann_mh42_on1,peaks:[],head:[H_on1+'Maleic hydrazid 111 / 42 (Unknown) 111.0/41.9 amu - sample 8 of 12 from 080131Mc_Malein.wiff','Area: 4.18e+003 counts  Height: 1.17e+002 cps  RT: 7.147 min']},

 {hy:1016,cr:273,L:31,T:1030,R:272,B:1168,xmax:17,ymax:670000,yt:yt_mhD2_on2,fmt:'dec',data:mhD2_on2,ann:ann_mhD2_on2,peaks:pk_on2_d2,head:[H_on2+'Maleic hydrazid D2   113.0/42(IS) (Unknown) 113.0/41.9 amu - sample 8 of 11 from 080220_Malein.wiff','Area: 1.09e+006 counts  Height: 1.13e+004 cps  RT: 8.340 min']},
 {hy:1016,cr:538,L:304,T:1030,R:529,B:1166,xmax:17,ymax:6600,yt:yt_mh82_on2,fmt:'int',data:mh82_on2,ann:ann_mh82_on2,peaks:pk_on2,head:[H_on2+'Maleic hydrazid 111 / 82   T   T (Unknown) 111.0/81.8 amu - sample 8 of 11 from 080220_Malein.wiff','Area: 6.42e+004 counts  Height: 6.53e+003 cps  RT: 9.342 min']},
 {hy:1016,cr:802,L:568,T:1030,R:801,B:1166,xmax:17,ymax:97000,yt:yt_mh55_on2,fmt:'dec',data:mh55_on2,ann:ann_mh55_on2,peaks:pk_on2,head:[H_on2+'Maleic hydrazid 111 / 55 (Unknown) 111.0/55.0 amu - sample 8 of 11 from 080220_Malein.wiff','Area: 3.19e+004 counts  Height: 2.42e+003 cps  RT: 9.323 min']},
 {hy:1016,cr:1068,L:833,T:1032,R:1057,B:1164,xmax:17,ymax:77000,yt:yt_mh42_on2,fmt:'int',data:mh42_on2,ann:ann_mh42_on2,peaks:pk_on2,head:[H_on2+'Maleic hydrazid 111 / 42 (Unknown) 111.0/41.9 amu - sample 8 of 11 from 080220_Malein.wiff','Area: 1.08e+005 counts  Height: 9.44e+003 cps  RT: 9.346 min']},

 {hy:1188,cr:273,L:31,T:1203,R:272,B:1343,xmax:17,ymax:284000,yt:yt_mhD2_on3,fmt:'dec',data:mhD2_on3,ann:ann_mhD2_on3,peaks:pk_on3_d2,head:[H_on3+'Maleic hydrazid D2   113.0/42(IS) (Unknown) 113.0/41.9 amu - sample 7 of 12 from 080131Mc_Malein.wiff','Area: 2.60e+005 counts  Height: 2.58e+004 cps  RT: 9.409 min']},
 {hy:1188,cr:538,L:304,T:1200,R:529,B:1338,xmax:17,ymax:54000,yt:yt_mh82_on3,fmt:'dec',data:mh82_on3,ann:ann_mh82_on3,peaks:pk_on3,head:[H_on3+'Maleic hydrazid 111 / 82   T   T (Unknown) 111.0/81.8 amu - sample 7 of 12 from 080131Mc_Malein.wiff','Area: 5.70e+005 counts  Height: 5.32e+004 cps  RT: 9.417 min']},
 {hy:1188,cr:802,L:567,T:1200,R:801,B:1338,xmax:17,ymax:230000,yt:yt_mh55_on3,fmt:'dec',data:mh55_on3,ann:ann_mh55_on3,peaks:pk_on3,head:[H_on3+'Maleic hydrazid 111 / 55 (Unknown) 111.0/55.0 amu - sample 7 of 12 from 080131Mc_Malein.wiff','Area: 2.56e+005 counts  Height: 2.28e+004 cps  RT: 9.423 min']},
 {hy:1188,cr:1068,L:833,T:1200,R:1057,B:1338,xmax:17,ymax:75000,yt:yt_mh42_on3,fmt:'int',data:mh42_on3,ann:ann_mh42_on3,peaks:pk_on3,head:[H_on3+'Maleic hydrazid 111 / 42 (Unknown) 111.0/41.9 amu - sample 7 of 12 from 080131Mc_Malein.wiff','Area: 8.14e+005 counts  Height: 7.44e+004 cps  RT: 9.419 min']}
];
panels.forEach(build);

// captions
function txt(cx,cy,s,w,big){const W=w||300;const d=el('tx',`left:${cx-W/2}px;top:${cy-17}px;width:${W}px`,s);if(big)d.classList.add('tr');}
[['Recovery test',54],['on strawberry',88],['0.1  mg/kg',155],['= 0.05 µg/mL',189],
 ['Fosetyl-Al',261],['solvent calib.',295],['0.005 µg/mL',363],['= 0.01 mg/kg',397],
 ['Fosetyl-Al',467],['solvent calib.',501],['0.05 µg/mL',568],['= 0.1 mg/kg',602]].forEach(([s,y])=>txt(1207,y,s,232,true));
txt(173,646,'Fosetyl-Al 109 / 81');txt(505,646,'Fosetyl-Al 109 / 63');txt(880,646,'Fosetyl-Al D15 114 / 82 (ISTD)',400);
[['Maleic hydrazide',696],['solvent calib.',730],['= 0.05 µg/ml',789],
 ['Onion sample',874],['0.5 g/ml',908],['n.d.',966],
 ['Onion sample',1041],['0.5 g/ml',1075],['~ 0.1 mg/kg',1133],['Maleic hydrazide',1167],
 ['Onion sample',1212],['0.5 g/IS',1246],['~ 4 mg/kg',1304],['Maleic hydrazide',1338]].forEach(([s,y])=>txt(1199,y,s,250,true));
[[136,'Maleic hydrazide D2','113/42  (ISTD)'],[405,'Maleic hydrazide','111 / 82 (target ion)'],[670,'Maleic hydrazide','111 / 55'],[935,'Maleic hydrazide','111 / 42']].forEach(([x,a,b])=>{txt(x,1373,a,270);txt(x,1401,b,270);});
el('note','left:318px;top:867px','See note');
</script>
</body></html>
